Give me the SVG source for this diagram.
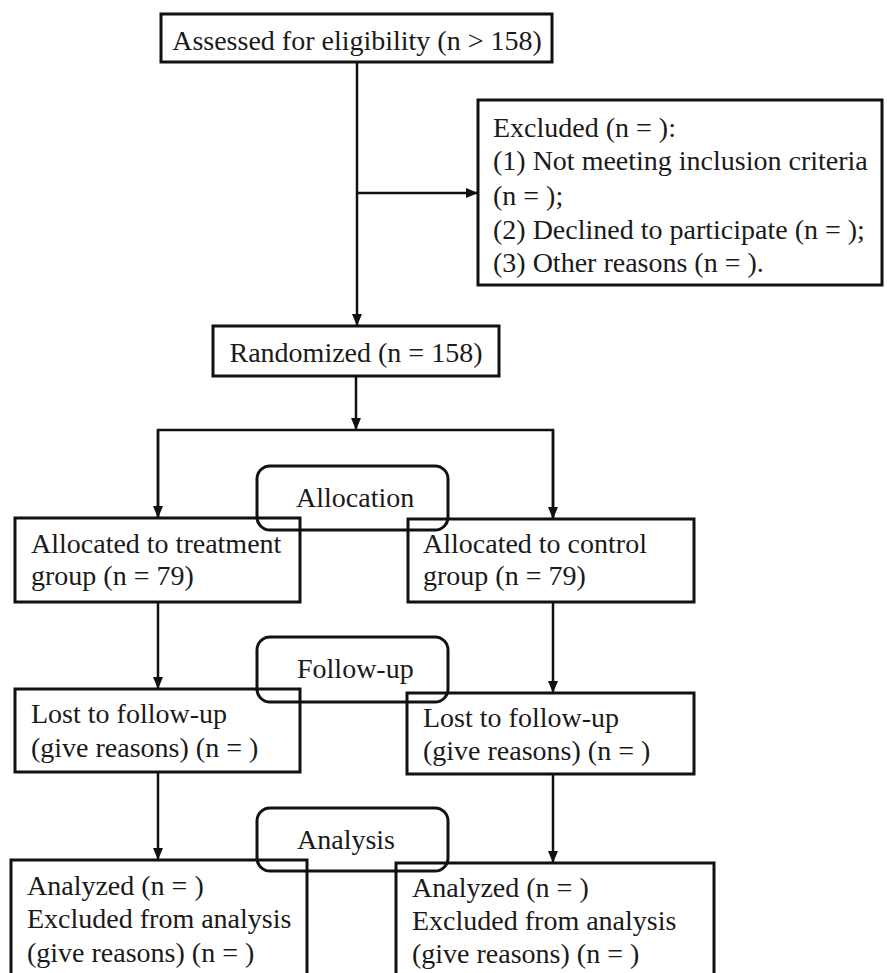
<svg xmlns="http://www.w3.org/2000/svg" width="887" height="973" viewBox="0 0 887 973">
<style>
.box{fill:none;stroke:#111;stroke-width:3}
.rbox{fill:none;stroke:#111;stroke-width:3}
.t{font-family:"Liberation Serif","Times New Roman",serif;font-size:28px;fill:#1a1a1a}
.c{text-anchor:middle}
.ln{fill:none;stroke:#111;stroke-width:2.5}
</style>
<defs>
<marker id="ah" markerUnits="userSpaceOnUse" markerWidth="12" markerHeight="10" refX="12" refY="5" orient="auto">
<path d="M0,0 L12,5 L0,10 z" fill="#111"/>
</marker>
</defs>
<g id="connectors">
<line class="ln" x1="357" y1="62" x2="357" y2="326" marker-end="url(#ah)"/>
<line class="ln" x1="357" y1="193" x2="478" y2="193" marker-end="url(#ah)"/>
<line class="ln" x1="356" y1="376" x2="356" y2="430" marker-end="url(#ah)"/>
<polyline class="ln" points="158,518 158,430 553,430 553,519"/>
<line class="ln" x1="158" y1="430" x2="158" y2="518" marker-end="url(#ah)"/>
<line class="ln" x1="553" y1="430" x2="553" y2="519" marker-end="url(#ah)"/>
<line class="ln" x1="158" y1="602" x2="158" y2="689" marker-end="url(#ah)"/>
<line class="ln" x1="553" y1="602" x2="553" y2="693" marker-end="url(#ah)"/>
<line class="ln" x1="158" y1="772" x2="158" y2="860" marker-end="url(#ah)"/>
<line class="ln" x1="553" y1="774" x2="553" y2="863" marker-end="url(#ah)"/>
</g>
<g id="assessed">
<rect class="box" x="161" y="14" width="391" height="48"/>
<text class="t c" x="357" y="50">Assessed for eligibility (n &gt; 158)</text>
</g>
<g id="excluded">
<rect class="box" x="478" y="100" width="404" height="185"/>
<text class="t" x="493" y="137">Excluded (n =  ):</text>
<text class="t" x="493" y="170">(1) Not meeting inclusion criteria</text>
<text class="t" x="493" y="205">(n =  );</text>
<text class="t" x="493" y="239">(2) Declined to participate (n =  );</text>
<text class="t" x="493" y="272">(3) Other reasons (n = ).</text>
</g>
<g id="randomized">
<rect class="box" x="213" y="326" width="286" height="50"/>
<text class="t c" x="356" y="362">Randomized (n = 158)</text>
</g>
<g id="allocation">
<rect class="rbox" x="257" y="466" width="191" height="64" rx="13"/>
<text class="t" x="296" y="507">Allocation</text>
</g>
<g id="alloc-treatment">
<rect class="box" x="15" y="518" width="285" height="84"/>
<text class="t" x="31" y="553">Allocated to treatment</text>
<text class="t" x="31" y="585">group (n = 79)</text>
</g>
<g id="alloc-control">
<rect class="box" x="408" y="519" width="286" height="83"/>
<text class="t" x="423" y="553">Allocated to control</text>
<text class="t" x="423" y="585">group (n = 79)</text>
</g>
<g id="followup">
<rect class="rbox" x="257" y="637" width="191" height="65" rx="13"/>
<text class="t" x="297" y="678">Follow-up</text>
</g>
<g id="lost-treatment">
<rect class="box" x="15" y="689" width="285" height="83"/>
<text class="t" x="31" y="723">Lost to follow-up</text>
<text class="t" x="31" y="757">(give reasons) (n = )</text>
</g>
<g id="lost-control">
<rect class="box" x="407" y="693" width="287" height="81"/>
<text class="t" x="423" y="727">Lost to follow-up</text>
<text class="t" x="423" y="760">(give reasons) (n = )</text>
</g>
<g id="analysis">
<rect class="rbox" x="257" y="808" width="191" height="63" rx="13"/>
<text class="t" x="297" y="849">Analysis</text>
</g>
<g id="analyzed-treatment">
<rect class="box" x="11" y="860" width="296" height="130"/>
<text class="t" x="27" y="895">Analyzed (n = )</text>
<text class="t" x="27" y="928">Excluded from analysis</text>
<text class="t" x="27" y="962">(give reasons) (n = )</text>
</g>
<g id="analyzed-control">
<rect class="box" x="396" y="863" width="318" height="130"/>
<text class="t" x="412" y="897">Analyzed (n = )</text>
<text class="t" x="412" y="930">Excluded from analysis</text>
<text class="t" x="412" y="963">(give reasons) (n = )</text>
</g>
</svg>
